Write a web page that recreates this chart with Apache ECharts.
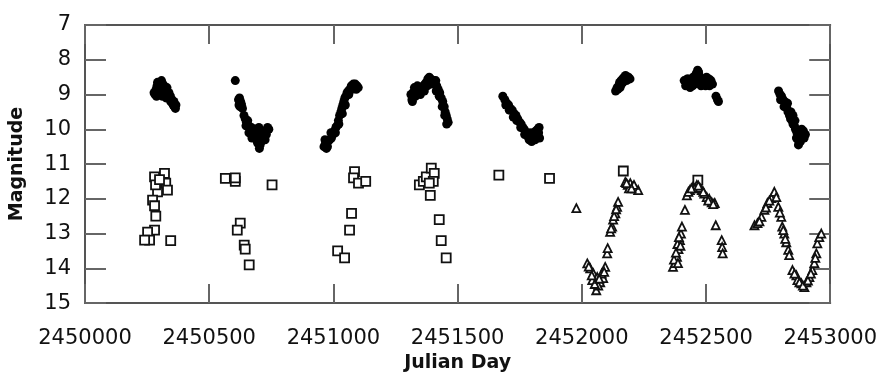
<!DOCTYPE html>
<html>
<head>
<meta charset="utf-8">
<script src="https://cdn.jsdelivr.net/npm/echarts@6/dist/echarts.min.js"></script>
<style>
  html, body { margin: 0; padding: 0; background: #fff; }
  #main { width: 880px; height: 378px; }
</style>
</head>
<body>
<div id="main"></div>
<script>
// V-band style photometry: filled = bright star, squares / triangles = faint comparison sets
const xTicks = [2450000, 2450500, 2451000, 2451500, 2452000, 2452500, 2453000];
const yTicks = [7, 8, 9, 10, 11, 12, 13, 14, 15];

const filled = [
  // season 1
  [2450282, 9.0], [2450286, 8.85], [2450290, 8.75], [2450294, 8.95], [2450298, 8.7], [2450302, 8.65],
  [2450306, 8.8], [2450310, 8.9], [2450314, 8.7], [2450318, 8.75], [2450322, 8.85], [2450326, 8.95],
  [2450330, 8.8], [2450300, 9.0], [2450312, 9.05], [2450334, 9.0], [2450340, 9.1], [2450345, 9.2],
  [2450350, 9.15], [2450355, 9.3], [2450360, 9.35], [2450364, 9.4], [2450278, 8.95], [2450288, 9.05],
  [2450296, 8.8], [2450304, 8.9], [2450320, 8.95], [2450328, 9.1], [2450338, 8.95], [2450344, 9.05],
  [2450352, 9.25], [2450358, 9.2], [2450366, 9.3], [2450292, 8.65], [2450308, 8.6],
  // season 2
  [2450605, 8.6], [2450618, 9.15], [2450622, 9.1], [2450626, 9.2], [2450630, 9.3], [2450624, 9.35],
  [2450634, 9.4], [2450628, 9.25], [2450620, 9.3], [2450640, 9.6], [2450645, 9.7], [2450650, 9.8],
  [2450655, 9.75], [2450648, 9.9], [2450660, 9.9], [2450665, 10.0], [2450670, 9.95], [2450675, 10.1],
  [2450680, 10.05], [2450690, 10.0], [2450700, 9.95], [2450695, 10.15], [2450685, 10.2], [2450690, 10.3],
  [2450700, 10.25], [2450695, 10.4], [2450702, 10.55], [2450705, 10.45], [2450740, 10.0], [2450735, 9.95],
  [2450720, 10.1], [2450725, 10.3], [2450710, 10.2], [2450715, 10.05], [2450730, 10.15], [2450660, 10.1],
  [2450672, 10.25], [2450710, 10.35],
  // season 3
  [2450962, 10.5], [2450968, 10.4], [2450972, 10.55], [2450978, 10.35], [2450985, 10.3], [2450992, 10.25],
  [2450998, 10.15], [2451004, 10.05], [2451008, 10.1], [2451014, 9.9], [2451020, 9.75], [2451025, 9.6],
  [2451030, 9.5], [2451034, 9.4], [2451038, 9.3], [2451042, 9.2], [2451046, 9.1], [2451050, 9.05],
  [2451055, 8.95], [2451060, 8.9], [2451066, 8.85], [2451072, 8.75], [2451080, 8.7], [2451088, 8.7],
  [2451095, 8.75], [2451100, 8.8], [2450966, 10.3], [2450976, 10.5], [2450990, 10.1], [2451010, 9.95],
  [2451022, 9.85], [2451036, 9.55], [2451048, 9.3], [2451062, 9.0], [2451076, 8.85], [2451092, 8.85],
  // season 4
  [2451312, 9.0], [2451316, 9.15], [2451320, 8.95], [2451326, 8.8], [2451330, 9.05], [2451336, 8.9],
  [2451342, 8.95], [2451346, 8.85], [2451350, 9.0], [2451356, 8.8], [2451362, 8.75], [2451368, 8.7],
  [2451374, 8.65], [2451380, 8.55], [2451386, 8.5], [2451392, 8.55], [2451398, 8.6], [2451404, 8.6],
  [2451410, 8.7], [2451416, 8.75], [2451422, 8.85], [2451428, 8.95], [2451434, 9.1], [2451440, 9.2],
  [2451446, 9.35], [2451450, 9.5], [2451454, 9.6], [2451458, 9.7], [2451462, 9.8], [2451318, 9.2],
  [2451328, 8.95], [2451338, 8.75], [2451352, 8.9], [2451366, 8.9], [2451378, 8.75], [2451396, 8.7],
  [2451414, 8.9], [2451426, 9.05], [2451438, 9.35], [2451448, 9.6], [2451456, 9.85], [2451412, 8.6],
  // season 5
  [2451682, 9.05], [2451690, 9.15], [2451698, 9.25], [2451705, 9.3], [2451712, 9.4], [2451720, 9.45],
  [2451728, 9.55], [2451735, 9.6], [2451742, 9.7], [2451750, 9.8], [2451756, 9.85], [2451762, 9.95],
  [2451768, 10.0], [2451775, 10.1], [2451782, 10.2], [2451788, 10.3], [2451795, 10.25], [2451800, 10.1],
  [2451806, 10.2], [2451812, 10.3], [2451818, 10.15], [2451822, 10.0], [2451828, 9.95], [2451830, 10.25],
  [2451815, 10.05], [2451694, 9.3], [2451708, 9.45], [2451724, 9.65], [2451738, 9.75], [2451754, 9.95],
  [2451770, 10.15], [2451786, 10.1], [2451798, 10.35], [2451810, 10.1], [2451826, 10.1],
  // season 6
  [2452136, 8.9], [2452142, 8.8], [2452148, 8.75], [2452152, 8.65], [2452158, 8.6], [2452164, 8.55],
  [2452170, 8.5], [2452176, 8.45], [2452182, 8.55], [2452188, 8.5], [2452194, 8.55], [2452160, 8.7],
  [2452145, 8.85], [2452166, 8.65], [2452180, 8.6], [2452154, 8.8],
  // season 7
  [2452412, 8.6], [2452418, 8.75], [2452424, 8.55], [2452430, 8.7], [2452436, 8.8], [2452442, 8.6],
  [2452448, 8.5], [2452454, 8.7], [2452460, 8.4], [2452466, 8.3], [2452472, 8.45], [2452478, 8.6],
  [2452484, 8.7], [2452490, 8.55], [2452496, 8.65], [2452502, 8.5], [2452508, 8.6], [2452514, 8.75],
  [2452520, 8.6], [2452526, 8.7], [2452540, 9.05], [2452546, 9.15], [2452550, 9.2], [2452428, 8.55],
  [2452446, 8.75], [2452458, 8.55], [2452470, 8.35], [2452480, 8.75], [2452498, 8.75], [2452512, 8.55],
  // season 8
  [2452792, 8.9], [2452798, 9.0], [2452804, 9.05], [2452810, 9.15], [2452816, 9.2], [2452820, 9.3],
  [2452826, 9.4], [2452830, 9.5], [2452836, 9.6], [2452840, 9.7], [2452846, 9.75], [2452850, 9.85],
  [2452856, 9.9], [2452860, 10.0], [2452866, 10.1], [2452870, 10.3], [2452872, 10.45], [2452878, 10.2],
  [2452885, 10.0], [2452892, 10.05], [2452900, 10.15], [2452895, 10.25], [2452850, 9.6], [2452800, 9.15],
  [2452814, 9.35], [2452828, 9.25], [2452842, 9.5], [2452858, 9.75], [2452864, 10.25], [2452880, 10.35],
  [2452888, 10.2]
];

const squares = [
  [2450280, 11.37], [2450292, 11.8], [2450320, 11.27], [2450325, 11.55], [2450332, 11.75],
  [2450272, 12.04], [2450280, 12.2], [2450285, 12.5], [2450280, 12.9], [2450252, 12.96],
  [2450260, 13.19], [2450240, 13.19], [2450345, 13.2], [2450284, 11.6], [2450300, 11.45],
  [2450565, 11.41], [2450605, 11.5], [2450605, 11.4], [2450753, 11.6], [2450625, 12.7],
  [2450613, 12.9], [2450641, 13.33], [2450645, 13.45], [2450661, 13.9],
  [2451085, 11.22], [2451081, 11.4], [2451101, 11.55], [2451130, 11.5], [2451073, 12.42],
  [2451065, 12.9], [2451017, 13.5], [2451045, 13.7],
  [2451346, 11.6], [2451362, 11.5], [2451374, 11.37], [2451394, 11.12], [2451406, 11.27],
  [2451402, 11.5], [2451386, 11.55], [2451390, 11.9], [2451426, 12.6], [2451434, 13.2],
  [2451454, 13.7],
  [2451666, 11.32], [2451870, 11.41], [2452167, 11.2], [2452467, 11.46]
];

const triangles = [
  [2451978, 12.27],
  // dip 1
  [2452022, 13.86], [2452034, 14.0], [2452046, 14.14], [2452062, 14.25], [2452042, 14.34],
  [2452074, 14.4], [2452058, 14.63], [2452086, 14.28], [2452094, 13.96], [2452102, 13.57],
  [2452104, 13.42], [2452114, 12.95], [2452122, 12.8], [2452126, 12.6], [2452135, 12.42],
  [2452142, 12.23], [2452146, 12.09], [2452066, 14.5], [2452080, 14.15], [2452052, 14.45],
  [2452070, 14.3], [2452090, 14.1], [2452028, 13.95], [2452040, 14.2], [2452118, 12.85],
  [2452130, 12.5], [2452138, 12.3],
  [2452175, 11.52], [2452185, 11.6], [2452195, 11.55], [2452205, 11.65], [2452215, 11.7],
  [2452227, 11.75], [2452190, 11.7], [2452210, 11.6], [2452200, 11.7], [2452180, 11.55],
  // dip 2
  [2452367, 13.96], [2452375, 13.85], [2452383, 13.67], [2452389, 13.45], [2452395, 13.19],
  [2452399, 13.0], [2452403, 12.8], [2452415, 12.32], [2452423, 11.9], [2452435, 11.75],
  [2452447, 11.66], [2452463, 11.6], [2452483, 11.75], [2452503, 11.95], [2452523, 12.1],
  [2452535, 12.12], [2452455, 11.7], [2452475, 11.68], [2452493, 11.85], [2452513, 12.0],
  [2452371, 13.75], [2452379, 13.55], [2452385, 13.3], [2452391, 13.1], [2452397, 13.35],
  [2452387, 13.85], [2452429, 11.8], [2452441, 11.7], [2452469, 11.62], [2452489, 11.8],
  [2452509, 12.05], [2452529, 12.15],
  [2452539, 12.76], [2452563, 13.19], [2452565, 13.39], [2452567, 13.57],
  // dip 3
  [2452695, 12.76], [2452707, 12.7], [2452723, 12.52], [2452735, 12.32], [2452747, 12.12],
  [2452763, 11.98], [2452775, 11.8], [2452783, 11.95], [2452791, 12.23], [2452803, 12.52],
  [2452807, 12.8], [2452815, 13.0], [2452823, 13.25], [2452831, 13.47], [2452835, 13.62],
  [2452848, 14.05], [2452864, 14.2], [2452868, 14.34], [2452884, 14.43], [2452896, 14.54],
  [2452904, 14.4], [2452916, 14.25], [2452928, 14.05], [2452936, 13.85], [2452944, 13.57],
  [2452948, 13.28], [2452956, 13.1], [2452964, 13.0], [2452715, 12.65], [2452741, 12.25],
  [2452755, 12.05], [2452797, 12.4], [2452811, 12.9], [2452819, 13.15], [2452856, 14.15],
  [2452876, 14.4], [2452890, 14.5], [2452910, 14.35], [2452922, 14.15], [2452940, 13.7]
];

const axisColor = '#555';
const tickColor = '#666';
const labelFont = { fontFamily: 'DejaVu Sans', fontSize: 21, color: '#111' };
const nameFont = { fontFamily: 'DejaVu Sans', fontSize: 19, fontWeight: 'bold', color: '#111' };

const xBase = {
  type: 'value', min: xTicks[0], max: xTicks[xTicks.length - 1], interval: 500,
  splitLine: { show: false },
  axisLine: { show: true, onZero: false, lineStyle: { color: axisColor, width: 2 } },
  axisTick: { show: true, inside: true, length: 19, lineStyle: { color: tickColor, width: 2 } }
};
const yBase = {
  type: 'value', inverse: true, min: yTicks[0], max: yTicks[yTicks.length - 1], interval: 1,
  splitLine: { show: false },
  axisLine: { show: true, onZero: false, lineStyle: { color: axisColor, width: 2 } },
  axisTick: { show: true, inside: true, length: 21, lineStyle: { color: tickColor, width: 2 } }
};

const option = {
  animation: false,
  backgroundColor: '#fff',
  grid: { left: 82, right: 49, top: 25, bottom: 74 },
  xAxis: [
    Object.assign({}, xBase, {
      position: 'bottom',
      name: 'Julian Day', nameLocation: 'middle', nameGap: 50, nameTextStyle: nameFont,
      axisLabel: Object.assign({ margin: 25, formatter: v => String(v) }, labelFont)
    }),
    Object.assign({}, xBase, { position: 'top', axisLabel: { show: false } })
  ],
  yAxis: [
    Object.assign({}, yBase, {
      position: 'left',
      name: 'Magnitude', nameLocation: 'middle', nameGap: 58, nameTextStyle: nameFont,
      axisLabel: Object.assign({ margin: 14 }, labelFont)
    }),
    Object.assign({}, yBase, { position: 'right', axisLabel: { show: false } })
  ],
  series: [
    {
      name: 'filled', type: 'scatter', symbol: 'circle', symbolSize: 9,
      itemStyle: { color: '#000', opacity: 1 }, data: filled
    },
    {
      name: 'squares', type: 'scatter', symbol: 'rect', symbolSize: 9,
      itemStyle: { color: '#fff', borderColor: '#111', borderWidth: 1.8, opacity: 1 }, data: squares
    },
    {
      name: 'triangles', type: 'scatter', symbol: 'triangle', symbolSize: 8,
      itemStyle: { color: '#fff', borderColor: '#111', borderWidth: 1.8, opacity: 1 }, data: triangles
    }
  ]
};

const chart = echarts.init(document.getElementById('main'), null, { renderer: 'canvas' });
chart.setOption(option);
window.addEventListener('resize', function () { chart.resize(); });
</script>
</body>
</html>
